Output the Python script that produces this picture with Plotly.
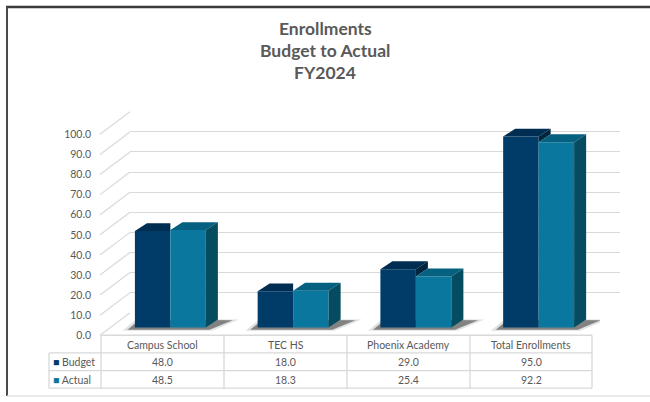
import plotly.graph_objects as go

# ---------------- data ----------------
categories = ["Campus School", "TEC HS", "Phoenix Academy", "Total Enrollments"]
budget = [48.0, 18.0, 29.0, 95.0]
actual = [48.5, 18.3, 25.4, 92.2]
series_names = ["Budget", "Actual"]
y_ticks = list(range(0, 101, 10))
title_lines = ["Enrollments", "Budget to Actual", "FY2024"]

# ---------------- style / geometry ----------------
W, H = 650, 402
TXT = "#595959"
GRID = "#D9D9D9"
FONT = "Lato"
C_B_FRONT, C_B_TOP, C_B_SIDE = "#013C69", "#002E52", "#00253F"
C_A_FRONT, C_A_TOP, C_A_SIDE = "#0A789E", "#06607F", "#054C61"
BAR_W = 0.289      # category units
DDX = 0.098        # depth offset, category units
DDY = 3.9          # depth offset, value units
PXU = 2.05         # px per value unit


def fx(p):
    return p / W


def fy(p):
    return 1 - p / H


xs = list(range(len(categories)))
fig = go.Figure()

# back wall gridlines (subplot xy, drawn first)
fig.add_trace(go.Scatter(x=[0], y=[0], xaxis="x", yaxis="y", mode="markers",
                         marker=dict(opacity=0), hoverinfo="skip", showlegend=False))

# bars front faces (subplot x2y2)
fig.add_trace(go.Bar(x=xs, y=budget, name=series_names[0], xaxis="x2", yaxis="y2",
                     width=BAR_W, offset=-BAR_W, marker=dict(color=C_B_FRONT, line=dict(width=0)),
                     showlegend=False))
fig.add_trace(go.Bar(x=xs, y=actual, name=series_names[1], xaxis="x2", yaxis="y2",
                     width=BAR_W, offset=0, marker=dict(color=C_A_FRONT, line=dict(width=0)),
                     showlegend=False))


def polys(list_of_polys):
    px_, py_ = [], []
    for poly in list_of_polys:
        for (a, b) in poly:
            px_.append(a)
            py_.append(b)
        px_.append(poly[0][0])
        py_.append(poly[0][1])
        px_.append(None)
        py_.append(None)
    return px_, py_


b_top, b_side, a_top, a_side = [], [], [], []
for i, (b, a) in enumerate(zip(budget, actual)):
    if b >= a:
        b_top.append([(i - BAR_W, b), (i, b), (i + DDX, b + DDY), (i - BAR_W + DDX, b + DDY)])
        b_side.append([(i, a), (i, b), (i + DDX, b + DDY), (i + DDX, a + DDY)])
    else:
        b_top.append([(i - BAR_W, b), (i, b), (i, b + DDY), (i - BAR_W + DDX, b + DDY)])
    a_top.append([(i, a), (i + BAR_W, a), (i + BAR_W + DDX, a + DDY), (i + DDX, a + DDY)])
    a_side.append([(i + BAR_W, 0), (i + BAR_W, a), (i + BAR_W + DDX, a + DDY), (i + BAR_W + DDX, DDY)])

for faces, col in [(b_top, C_B_TOP), (b_side, C_B_SIDE), (a_top, C_A_TOP), (a_side, C_A_SIDE)]:
    if not faces:
        continue
    px_, py_ = polys(faces)
    fig.add_trace(go.Scatter(x=px_, y=py_, xaxis="x2", yaxis="y2", mode="lines",
                             fill="toself", fillcolor=col, line=dict(width=0, color=col),
                             hoverinfo="skip", showlegend=False))

# front axis labels (subplot x3y3)
fig.add_trace(go.Scatter(x=[0], y=[0], xaxis="x3", yaxis="y3", mode="markers",
                         marker=dict(opacity=0), hoverinfo="skip", showlegend=False))

shapes = []
# soft shadows under bars
for i in xs:
    gx0 = i - BAR_W
    gx1 = i + BAR_W + DDX
    outer = (f"M {gx0 - 0.10},{-1.7} L {i + BAR_W + 0.05},{-1.7} L {gx1 + 0.17},{DDY} "
             f"L {gx0 + 0.02},{DDY + 0.5} Z")
    inner = (f"M {gx0 - 0.06},{-1.2} L {i + BAR_W + 0.03},{-1.2} L {gx1 + 0.12},{DDY - 0.3} "
             f"L {gx0 + 0.04},{DDY} Z")
    shapes.append(dict(type="path", path=outer, xref="x2", yref="y2", layer="below",
                       fillcolor="rgba(0,0,0,0.12)", line=dict(width=0)))
    shapes.append(dict(type="path", path=inner, xref="x2", yref="y2", layer="below",
                       fillcolor="rgba(0,0,0,0.42)", line=dict(width=0)))

# diagonal gridline connectors front->back
for v in y_ticks:
    shapes.append(dict(type="line", xref="paper", yref="paper",
                       x0=fx(100), y0=fy(338 - PXU * v), x1=fx(130), y1=fy(315 - PXU * v),
                       line=dict(color=GRID, width=1.2), layer="below"))

# data table lines
col_edges = [101, 224, 347, 470, 592]
row_edges = [338, 356, 374, 392]
for k, yy in enumerate(row_edges):
    x_left = 101 if k == 0 else 49
    shapes.append(dict(type="line", xref="paper", yref="paper", x0=fx(x_left), x1=fx(592),
                       y0=fy(yy), y1=fy(yy), line=dict(color=GRID, width=1.3)))
for xx in col_edges:
    shapes.append(dict(type="line", xref="paper", yref="paper", x0=fx(xx), x1=fx(xx),
                       y0=fy(338), y1=fy(392), line=dict(color=GRID, width=1.3)))
shapes.append(dict(type="line", xref="paper", yref="paper", x0=fx(49), x1=fx(49),
                   y0=fy(356), y1=fy(392), line=dict(color=GRID, width=1.3)))

# outer frame
shapes.append(dict(type="line", xref="paper", yref="paper", x0=fx(6), x1=1, y0=fy(3), y1=fy(3),
                   line=dict(color="#3A3A3A", width=2.5)))
shapes.append(dict(type="line", xref="paper", yref="paper", x0=fx(7), x1=fx(7), y0=fy(3), y1=fy(400),
                   line=dict(color="#4A4A4A", width=2)))
shapes.append(dict(type="line", xref="paper", yref="paper", x0=fx(7), x1=1, y0=fy(400), y1=fy(400),
                   line=dict(color="#E3E3E3", width=1.5)))

annotations = []
# title lines
for txt, yc in zip(title_lines, [25, 47.5, 70]):
    annotations.append(dict(x=fx(325), y=fy(yc), xref="paper", yref="paper", text=f"<b>{txt}</b>",
                            xanchor="center", yanchor="middle", showarrow=False,
                            font=dict(family=FONT, size=17.5, color=TXT)))
centers = [(col_edges[k] + col_edges[k + 1]) / 2 for k in range(len(categories))]
for c, cat in zip(centers, categories):
    annotations.append(dict(x=fx(c), y=fy(348), xref="paper", yref="paper", text=cat,
                            xanchor="center", yanchor="middle",
                            showarrow=False, font=dict(family=FONT, size=10.5, color=TXT)))
for vals, yc in [(budget, 365.5), (actual, 383.5)]:
    for c, v in zip(centers, vals):
        annotations.append(dict(x=fx(c), y=fy(yc), xref="paper", yref="paper", text=f"{v:.1f}",
                                xanchor="center", yanchor="middle",
                                showarrow=False, font=dict(family=FONT, size=10.5, color=TXT)))
for name, col, yc in [(series_names[0], C_B_FRONT, 365.5), (series_names[1], C_A_FRONT, 383.5)]:
    annotations.append(dict(x=fx(51), y=fy(yc), xref="paper", yref="paper", xanchor="left",
                            yanchor="middle",
                            text=f"<span style='color:{col}'>■</span> {name}",
                            showarrow=False, font=dict(family=FONT, size=10.5, color=TXT)))

fig.update_layout(
    width=W, height=H,
    margin=dict(l=0, r=0, t=0, b=0),
    paper_bgcolor="white",
    plot_bgcolor="rgba(0,0,0,0)",
    barmode="overlay",
    showlegend=False,
    xaxis=dict(domain=[fx(130), fx(620)], range=[0, 1], visible=False, fixedrange=True),
    yaxis=dict(domain=[fy(315 + 0.5 * PXU), fy(110 - 0.5 * PXU)], range=[-0.5, 100.5],
               tickvals=y_ticks, showgrid=True, gridcolor=GRID, gridwidth=1.2,
               zeroline=False, showline=False, showticklabels=False, ticks="", fixedrange=True),
    xaxis2=dict(domain=[fx(109), fx(600)], range=[-0.5, 3.5], visible=False, fixedrange=True),
    yaxis2=dict(domain=[fy(330 + 6 * PXU), fy(330 - 110 * PXU)], range=[-6, 110],
                visible=False, fixedrange=True),
    xaxis3=dict(domain=[fx(100), fx(592)], range=[0, 1], visible=False, fixedrange=True),
    yaxis3=dict(domain=[fy(338 + 1 * PXU), fy(133 - 1 * PXU)], range=[-1, 101],
                anchor="x3", tickvals=y_ticks, tickformat=".1f", showgrid=False, zeroline=False,
                showline=False, ticks="", ticklabelstandoff=8,
                tickfont=dict(family=FONT, size=10.5, color=TXT), fixedrange=True),
    shapes=shapes,
    annotations=annotations,
)

fig.write_html("out.html", config={"displayModeBar": False},
               post_script="document.body.style.margin='0';document.body.style.overflow='hidden';")
